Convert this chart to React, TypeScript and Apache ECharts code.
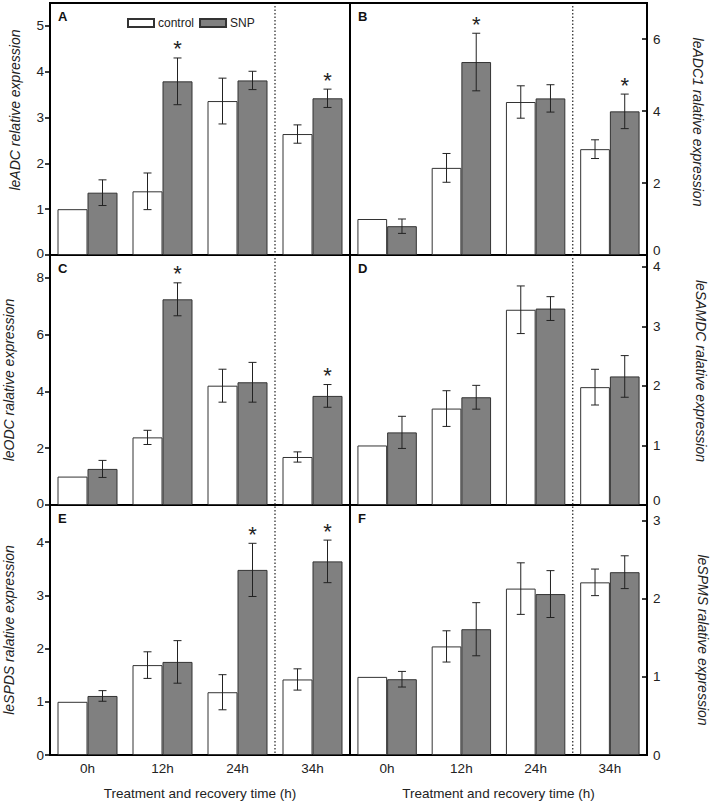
import React, { useEffect, useRef } from "react";
import * as echarts from "echarts";

// ---------- data ----------
const categories = ["0h", "12h", "24h", "34h"];
const seriesNames = ["control", "SNP"];
const panelLetters = ["A", "B", "C", "D", "E", "F"];
const yAxisNames = [
  "leADC relative expression",
  "leADC1 ralative expression",
  "leODC ralative expression",
  "leSAMDC ralative expression",
  "leSPDS ralative expression",
  "leSPMS ralative expression",
];
const xAxisName = "Treatment and recovery time (h)";
const yMaxes = [5.5, 7, 8.8, 4.2, 4.7, 3.2];
const yTicksA = [0, 1, 2, 3, 4, 5];
const yTicksB = [0, 2, 4, 6];
const yTicksC = [0, 2, 4, 6, 8];
const yTicksD = [0, 1, 2, 3, 4];
const yTicksE = [0, 1, 2, 3, 4];
const yTicksF = [0, 1, 2, 3];

// Panel A - leADC
const controlA = [1.0, 1.39, 3.36, 2.64];
const controlErrA = [0, 0.4, 0.5, 0.2];
const snpA = [1.36, 3.79, 3.81, 3.42];
const snpErrA = [0.28, 0.51, 0.2, 0.2];
const starA = [0, 1, 0, 1];
// Panel B - leADC1
const controlB = [1.0, 2.42, 4.25, 2.94];
const controlErrB = [0, 0.4, 0.45, 0.26];
const snpB = [0.8, 5.36, 4.35, 3.99];
const snpErrB = [0.2, 0.8, 0.38, 0.48];
const starB = [0, 1, 0, 1];
// Panel C - leODC
const controlC = [1.0, 2.38, 4.2, 1.69];
const controlErrC = [0, 0.25, 0.58, 0.18];
const snpC = [1.27, 7.24, 4.32, 3.84];
const snpErrC = [0.3, 0.58, 0.7, 0.4];
const starC = [0, 1, 0, 1];
// Panel D - leSAMDC
const controlD = [1.0, 1.62, 3.28, 1.98];
const controlErrD = [0, 0.3, 0.4, 0.3];
const snpD = [1.22, 1.81, 3.3, 2.16];
const snpErrD = [0.27, 0.2, 0.2, 0.35];
const starD = [0, 0, 0, 0];
// Panel E - leSPDS
const controlE = [1.0, 1.69, 1.18, 1.42];
const controlErrE = [0, 0.25, 0.33, 0.2];
const snpE = [1.11, 1.75, 3.48, 3.64];
const snpErrE = [0.1, 0.4, 0.5, 0.4];
const starE = [0, 0, 1, 1];
// Panel F - leSPMS
const controlF = [1.0, 1.39, 2.13, 2.21];
const controlErrF = [0, 0.2, 0.33, 0.17];
const snpF = [0.97, 1.61, 2.06, 2.34];
const snpErrF = [0.1, 0.34, 0.3, 0.21];
const starF = [0, 0, 0, 0];

const panels = [
  { control: controlA, controlErr: controlErrA, snp: snpA, snpErr: snpErrA, star: starA, ticks: yTicksA },
  { control: controlB, controlErr: controlErrB, snp: snpB, snpErr: snpErrB, star: starB, ticks: yTicksB },
  { control: controlC, controlErr: controlErrC, snp: snpC, snpErr: snpErrC, star: starC, ticks: yTicksC },
  { control: controlD, controlErr: controlErrD, snp: snpD, snpErr: snpErrD, star: starD, ticks: yTicksD },
  { control: controlE, controlErr: controlErrE, snp: snpE, snpErr: snpErrE, star: starE, ticks: yTicksE },
  { control: controlF, controlErr: controlErrF, snp: snpF, snpErr: snpErrF, star: starF, ticks: yTicksF },
];

// ---------- layout ----------
const FONT = "'Liberation Sans', Arial, sans-serif";
const GRID_LEFT = [50, 350];
const GRID_WIDTH = [300, 297];
const GRID_TOP = [3, 255, 505];
const GRID_HEIGHT = [252, 250, 250];
// y-axis title centres [x, y] per panel
const Y_NAME_POS = [
  [15, 110],
  [698, 122],
  [9, 380],
  [701, 371],
  [9, 630],
  [703, 640],
];
// extra bottom padding (px) lifting the "0" label of upper rows, per column
const ZERO_LIFT = [4, 10];

function makeErrRender(sign: number) {
  return (params: any, api: any) => {
    const x = api.value(0);
    const lo = api.value(1);
    const hi = api.value(2);
    const star = api.value(3);
    const band = api.size([1, 0])[0];
    const off = sign * band * 0.2;
    const pLo = api.coord([x, lo]);
    const pHi = api.coord([x, hi]);
    const cx = pLo[0] + off;
    const children: any[] = [];
    const st = { stroke: "#222", lineWidth: 1 };
    if (hi > lo) {
      children.push({ type: "line", shape: { x1: cx, y1: pLo[1], x2: cx, y2: pHi[1] }, style: st });
      children.push({ type: "line", shape: { x1: cx - 4, y1: pLo[1], x2: cx + 4, y2: pLo[1] }, style: st });
      children.push({ type: "line", shape: { x1: cx - 4, y1: pHi[1], x2: cx + 4, y2: pHi[1] }, style: st });
    }
    if (star) {
      children.push({
        type: "text",
        x: cx,
        y: pHi[1] - 9,
        style: {
          text: "*",
          fontSize: 22,
          fontFamily: FONT,
          fill: "#222",
          align: "center",
          verticalAlign: "middle",
        },
      });
    }
    return { type: "group", children };
  };
}

export default function App() {
  const ref = useRef<HTMLDivElement>(null);

  useEffect(() => {
    const chart = echarts.init(ref.current!, null, { renderer: "svg" });
    const grid: any[] = [];
    const xAxis: any[] = [];
    const yAxis: any[] = [];
    const series: any[] = [];
    const graphic: any[] = [];

    panels.forEach((p, i) => {
      const row = Math.floor(i / 2);
      const col = i % 2;
      const left = GRID_LEFT[col];
      const width = GRID_WIDTH[col];
      const top = GRID_TOP[row];
      const height = GRID_HEIGHT[row];
      const bottomRow = row === 2;
      grid.push({
        left,
        top,
        width,
        height,
        show: true,
        borderColor: "#000",
        borderWidth: 2,
        backgroundColor: "transparent",
        containLabel: false,
        outerBoundsMode: "none",
      });
      xAxis.push({
        type: "category",
        gridIndex: i,
        data: categories,
        axisLine: { show: false },
        axisTick: { show: false },
        axisLabel: {
          show: bottomRow,
          margin: 6,
          fontSize: 13.5,
          fontFamily: FONT,
          color: "#222",
        },
        name: bottomRow ? xAxisName : "",
        nameLocation: "middle",
        nameGap: 31,
        nameTextStyle: { fontSize: 13.5, fontFamily: FONT, color: "#222" },
      });
      const lift = bottomRow ? 0 : ZERO_LIFT[col];
      yAxis.push({
        type: "value",
        gridIndex: i,
        position: col === 0 ? "left" : "right",
        min: 0,
        max: yMaxes[i],
        splitLine: { show: false },
        axisLine: { show: false },
        axisTick: {
          show: true,
          inside: col === 1,
          length: 5,
          lineStyle: { color: "#000", width: 1.5 },
          customValues: p.ticks,
        },
        axisLabel: {
          margin: 6,
          fontSize: 13.5,
          fontFamily: FONT,
          color: "#222",
          customValues: p.ticks,
          formatter: (v: number) => (v === 0 && lift > 0 ? "{lift|0}" : String(v)),
          rich: {
            lift: {
              fontSize: 13.5,
              fontFamily: FONT,
              color: "#222",
              padding: [0, 0, lift, 0],
            },
          },
        },
      });
      series.push({
        type: "bar",
        name: seriesNames[0],
        xAxisIndex: i,
        yAxisIndex: i,
        data: p.control,
        barWidth: "40%",
        barGap: "0%",
        itemStyle: { color: "#ffffff", borderColor: "#333", borderWidth: 1 },
      });
      series.push({
        type: "bar",
        name: seriesNames[1],
        xAxisIndex: i,
        yAxisIndex: i,
        data: p.snp,
        barWidth: "40%",
        barGap: "0%",
        itemStyle: { color: "#808080", borderColor: "#333", borderWidth: 1 },
      });
      series.push({
        type: "custom",
        xAxisIndex: i,
        yAxisIndex: i,
        renderItem: makeErrRender(-1),
        encode: { x: 0, y: [1, 2] },
        data: p.control.map((v, k) => [k, v - p.controlErr[k], v + p.controlErr[k], 0]),
        z: 5,
      });
      series.push({
        type: "custom",
        xAxisIndex: i,
        yAxisIndex: i,
        renderItem: makeErrRender(1),
        encode: { x: 0, y: [1, 2] },
        data: p.snp.map((v, k) => [k, v - p.snpErr[k], v + p.snpErr[k], p.star[k]]),
        z: 5,
      });

      graphic.push({
        type: "text",
        x: left + 8,
        y: top + 7,
        style: {
          text: panelLetters[i],
          fontSize: 13,
          fontWeight: "bold",
          fontFamily: FONT,
          fill: "#111",
          align: "left",
          verticalAlign: "top",
        },
      });
      const [nx, ny] = Y_NAME_POS[i];
      graphic.push({
        type: "text",
        x: nx,
        y: ny,
        rotation: col === 0 ? Math.PI / 2 : -Math.PI / 2,
        style: {
          text: yAxisNames[i],
          fontSize: 14,
          fontStyle: "italic",
          fontFamily: FONT,
          fill: "#222",
          align: "center",
          verticalAlign: "middle",
        },
      });
    });

    // dotted separators between 24h and 34h
    [0, 1].forEach((col) => {
      const x = GRID_LEFT[col] + GRID_WIDTH[col] * 0.75;
      graphic.push({
        type: "line",
        shape: { x1: x, y1: GRID_TOP[0] + 3, x2: x, y2: GRID_TOP[2] + GRID_HEIGHT[2] },
        style: { stroke: "#222", lineWidth: 1.2, lineDash: [1.5, 2] },
        z: 10,
      });
    });

    chart.setOption({
      animation: false,
      backgroundColor: "#fff",
      textStyle: { fontFamily: FONT },
      legend: {
        data: seriesNames,
        left: 122,
        top: 12,
        itemWidth: 26,
        itemHeight: 8,
        itemGap: 5,
        selectedMode: false,
        icon: "rect",
        textStyle: { fontSize: 12, fontFamily: FONT, color: "#222", padding: [0, 0, 0, -1] },
      },
      grid,
      xAxis,
      yAxis,
      series,
      graphic,
    });

    return () => chart.dispose();
  }, []);

  return (
    <div
      ref={ref}
      style={{ position: "fixed", left: 0, top: 0, width: 710, height: 803, background: "#fff" }}
    />
  );
}
